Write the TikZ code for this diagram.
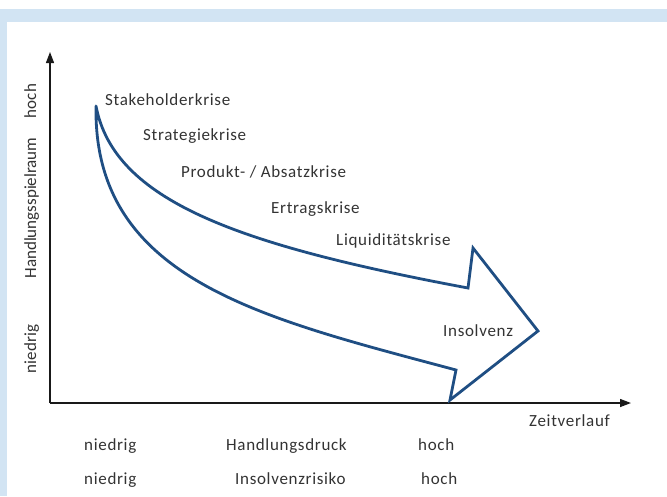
\documentclass[tikz,border=0pt]{standalone}
\usepackage{fontspec}
\setmainfont{Carlito}
\usetikzlibrary{arrows.meta}

\definecolor{krisenblau}{RGB}{31,78,131}
\definecolor{rahmenblau}{RGB}{210,228,243}

\begin{document}
\begin{tikzpicture}[x = 1pt, y = -1pt,
  every node/.style = {inner sep = 0pt, text = black!80, font = \fontsize{17}{20}\selectfont},
  beschriftung/.style = {anchor = base west, font = \fontsize{17}{20}\selectfont\addfontfeature{LetterSpace=4}},
  achse/.style = {-{Triangle[length = 11pt, width = 8pt]}, line width = 1.3pt, black!90},
  krisenpfeil/.style = {krisenblau, line width = 2.8pt, line cap = round}]
\useasboundingbox (0,0) rectangle (667,496);
\fill[rahmenblau] (0,9) rectangle (667,22);
\fill[rahmenblau] (0,22) rectangle (7,496);

\coordinate (O) at (50,403);
\coordinate (Y) at (50,52);
\coordinate (X) at (631,403);
\draw[achse] (O) -- (Y);
\draw[achse] (O) -- (X);

\node[rotate = 90, anchor = base] (yniedrig) at (36,349) {niedrig};
\node[rotate = 90, anchor = base] (yspiel) at (36,208) {Handlungsspielraum};
\node[rotate = 90, anchor = base] (yhoch) at (36,101) {hoch};

\node[beschriftung] (stake) at (105,105) {Stakeholderkrise};
\node[beschriftung] (strat) at (143,140) {Strategiekrise};
\node[beschriftung] (prod) at (181,177) {Produkt- / Absatzkrise};
\node[beschriftung] (ertrag) at (271,213) {Ertragskrise};
\node[beschriftung] (liqui) at (336,245) {Liquiditätskrise};
\node[beschriftung] (insol) at (443,336) {Insolvenz};
\node[beschriftung] (zeit) at (529,426) {Zeitverlauf};

\node[beschriftung] (druckniedrig) at (84,450) {niedrig};
\node[beschriftung] (druck) at (226,450) {Handlungsdruck};
\node[beschriftung] (druckhoch) at (418,450) {hoch};
\node[beschriftung] (risikoniedrig) at (84,484) {niedrig};
\node[beschriftung] (risiko) at (235,484) {Insolvenzrisiko};
\node[beschriftung] (risikohoch) at (421,484) {hoch};

\coordinate (start) at (96,106);
\coordinate (obenende) at (468,288);
\coordinate (kerbeoben) at (473,248);
\coordinate (spitze) at (538,331);
\coordinate (kerbeunten) at (450,400);
\coordinate (untenende) at (456,370);

\draw[krisenpfeil] (start) .. controls (114,201) and (238,245) .. (obenende)
  -- (kerbeoben) -- (spitze) -- (kerbeunten) -- (untenende)
  .. controls (262,318) and (93,280) .. (start);
\end{tikzpicture}
\end{document}
